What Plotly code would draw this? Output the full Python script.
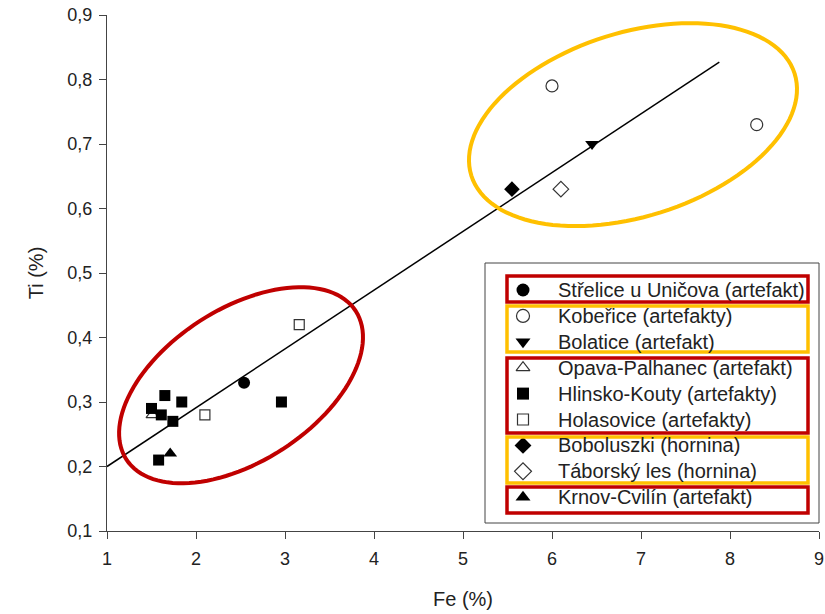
import numpy as np
import plotly.graph_objects as go

# ---------------- data ----------------
strelice_fe = [2.54]
strelice_ti = [0.33]
kobe_fe = [6.00, 8.30]
kobe_ti = [0.79, 0.73]
bolatice_fe = [6.45]
bolatice_ti = [0.70]
opava_fe = [1.51]
opava_ti = [0.28]
hlinsko_fe = [1.65, 1.84, 1.50, 1.61, 1.74, 1.58, 2.96]
hlinsko_ti = [0.31, 0.30, 0.29, 0.28, 0.27, 0.21, 0.30]
holas_fe = [2.10, 3.16]
holas_ti = [0.28, 0.42]
bobol_fe = [5.55]
bobol_ti = [0.63]
tabor_fe = [6.10]
tabor_ti = [0.63]
krnov_fe = [1.71]
krnov_ti = [0.22]
trend_fe = [1.00, 7.88]
trend_ti = [0.200, 0.827]

x_ticks = [1, 2, 3, 4, 5, 6, 7, 8, 9]
y_ticks = [0.1, 0.2, 0.3, 0.4, 0.5, 0.6, 0.7, 0.8, 0.9]

# ---------------- geometry ----------------
W, H = 825, 614
ML, MR, MT, MB = 107, 6, 15, 83
PW, PH = W - ML - MR, H - MT - MB
XR, YR = [1, 9], [0.1, 0.9]
ppx = PW / (XR[1] - XR[0])
ppy = PH / (YR[1] - YR[0])

RED = "#C00000"
GOLD = "#FFC000"
OPEN_LINE = "#333333"
FONT = "Arial, Liberation Sans, sans-serif"


def ellipse_path(cx, cy, a, b, theta_deg, n=120):
    th = np.radians(theta_deg)
    t = np.linspace(0, 2 * np.pi, n, endpoint=False)
    dx = a * np.cos(t) * np.cos(th) - b * np.sin(t) * np.sin(th)
    dy = a * np.cos(t) * np.sin(th) + b * np.sin(t) * np.cos(th)
    xs = cx + dx / ppx
    ys = cy + dy / ppy
    pts = [f"{x:.4f},{y:.5f}" for x, y in zip(xs, ys)]
    return "M " + " L ".join(pts) + " Z"


def px_x(px):
    return (px - ML) / PW


def px_y(py):
    return (MT + PH - py) / PH


fig = go.Figure()

series = [
    ("Střelice u Uničova (artefakt)", strelice_fe, strelice_ti, "circle", 12),
    ("Kobeřice (artefakty)", kobe_fe, kobe_ti, "circle-open", 12),
    ("Bolatice (artefakt)", bolatice_fe, bolatice_ti, "triangle-down", 12),
    ("Opava-Palhanec (artefakt)", opava_fe, opava_ti, "triangle-up-open", 11),
    ("Hlinsko-Kouty (artefakty)", hlinsko_fe, hlinsko_ti, "square", 11),
    ("Holasovice (artefakty)", holas_fe, holas_ti, "square-open", 10),
    ("Boboluszki (hornina)", bobol_fe, bobol_ti, "diamond", 12),
    ("Táborský les (hornina)", tabor_fe, tabor_ti, "diamond-open", 12),
    ("Krnov-Cvilín (artefakt)", krnov_fe, krnov_ti, "triangle-up", 12),
]

fig.add_trace(go.Scatter(x=trend_fe, y=trend_ti, mode="lines",
                         line=dict(color="black", width=1.5),
                         showlegend=False, hoverinfo="skip"))


def mstyle(sym, size):
    is_open = sym.endswith("open")
    return dict(symbol=sym, size=size, color=OPEN_LINE if is_open else "black",
                line=dict(color=OPEN_LINE if is_open else "black",
                          width=1.2 if is_open else 0))


for name, xs, ys, sym, size in series:
    fig.add_trace(go.Scatter(x=xs, y=ys, mode="markers", name=name,
                             marker=mstyle(sym, size), showlegend=False))

# ---------------- custom legend (pixel overlay axes) ----------------
LEG_MARK_X = 523
LEG_TEXT_X = 556
LEG_ROW0 = 290
LEG_STEP = 25.9
annotations = []
for i, (name, xs, ys, sym, size) in enumerate(series):
    ry = LEG_ROW0 + LEG_STEP * i
    fig.add_trace(go.Scatter(x=[LEG_MARK_X], y=[ry], mode="markers",
                             marker=mstyle(sym, size + 1), xaxis="x2", yaxis="y2",
                             showlegend=False, hoverinfo="skip", cliponaxis=False))
    annotations.append(dict(x=LEG_TEXT_X, y=ry, xref="x2", yref="y2", text=name,
                            showarrow=False, xanchor="left", yanchor="middle",
                            font=dict(size=20, color="#222222", family=FONT)))

shapes = [
    dict(type="path", xref="x", yref="y",
         path=ellipse_path(2.506, 0.326, 136.6, 76.3, 32.9),
         line=dict(color=RED, width=4)),
    dict(type="path", xref="x", yref="y",
         path=ellipse_path(6.91, 0.730, 169.5, 92.0, 17.5),
         line=dict(color=GOLD, width=4)),
    dict(type="rect", xref="paper", yref="paper",
         x0=px_x(485), x1=px_x(819), y0=px_y(523), y1=px_y(263),
         line=dict(color="#444444", width=1)),
]
group_boxes = [(276, 302, RED), (306, 352, GOLD), (358, 433, RED),
               (437, 483, GOLD), (487, 513, RED)]
for top, bot, col in group_boxes:
    shapes.append(dict(type="rect", xref="paper", yref="paper",
                       x0=px_x(507), x1=px_x(808), y0=px_y(bot), y1=px_y(top),
                       line=dict(color=col, width=3.5)))

fig.update_layout(
    width=W, height=H,
    margin=dict(l=ML, r=MR, t=MT, b=MB),
    paper_bgcolor="white", plot_bgcolor="white",
    separators=", ",
    font=dict(family=FONT, color="#222222", size=18),
    shapes=shapes,
    annotations=annotations,
    showlegend=False,
    xaxis2=dict(domain=[0, 1], range=[ML, ML + PW], anchor="y2", overlaying="x",
                visible=False, fixedrange=True),
    yaxis2=dict(domain=[0, 1], range=[MT + PH, MT], anchor="x2", overlaying="y",
                visible=False, fixedrange=True),
    xaxis=dict(range=XR, tickvals=x_ticks, showgrid=False, zeroline=False,
               showline=True, linecolor="#444444", linewidth=1, automargin=False,
               ticks="outside", ticklen=7, tickcolor="#444444",
               tickfont=dict(size=18), ticklabelstandoff=4,
               title=dict(text="Fe (%)", font=dict(size=20), standoff=24)),
    yaxis=dict(range=YR, tickvals=y_ticks, tickformat=".1f", showgrid=False,
               zeroline=False, showline=True, linecolor="#444444", linewidth=1,
               automargin=False,
               ticks="outside", ticklen=7, tickcolor="#444444",
               tickfont=dict(size=18), ticklabelstandoff=3,
               title=dict(text="Ti (%)", font=dict(size=20), standoff=18)),
)

fig.write_html("out.html",
               config={"displayModeBar": False},
               post_script="document.body.style.margin='0';"
                           "document.body.style.overflow='hidden';")
